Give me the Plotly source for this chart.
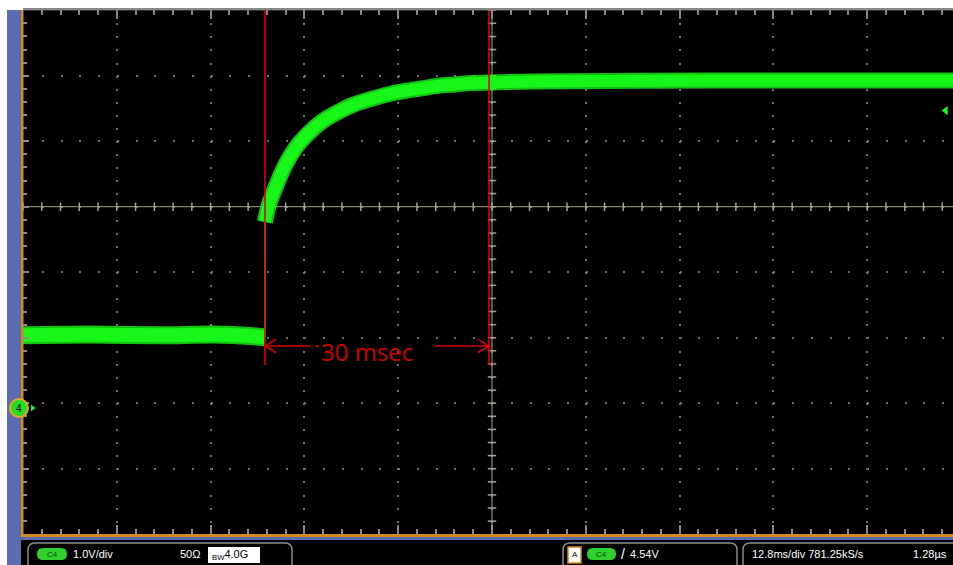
import plotly.graph_objects as go

# ---------------- data ----------------
time_per_div_ms = 12.8
volts_per_div = 1.0
x_range_ms = [-64.0, 62.91]
y_range_v = [-1.924, 6.073]
center_v = 3.073

pre_t = [-64.0, -55.0, -45.0, -38.0, -33.0, -31.0]
pre_v = [1.11, 1.12, 1.11, 1.12, 1.10, 1.08]

step_t = [-30.98, -30.98]
step_v = [1.08, 2.84]

rise_t = [-30.98, -30.53, -29.61, -28.25, -26.88, -25.52, -23.24, -20.97, -18.69,
          -16.42, -14.15, -11.87, -9.59, -7.33, -5.05, -2.77, -0.50, 10.0, 30.0, 62.91]
rise_v = [2.84, 3.07, 3.35, 3.70, 3.96, 4.14, 4.37, 4.52, 4.64,
          4.72, 4.79, 4.84, 4.88, 4.92, 4.94, 4.96, 4.97, 4.99, 5.00, 5.00]

cursor_t = [-30.98, -0.40]
cursor_bottom_v = 0.656
arrow_v = 0.947
delta_label = "30 msec"
ground_v = 0.0
trigger_level_v = 4.54

ch_label = "C4"
vdiv_label = "1.0V/div"
imp_label = "50Ω"
bw_label = "4.0G"
trig_label = "4.54V"
time_label = "12.8ms/div 781.25kS/s"
res_label = "1.28µs"

# ---------------- geometry helpers ----------------
W, H = 953, 565
def px(x):
    return x / W
def py(y):
    return 1 - y / H

GREEN = "#18f518"
RED = "#dd0000"
GRID = "#707070"
XH = "#a8a090"

fig = go.Figure()

# crosshair centre lines with minor ticks
n_minor_x = int(round((x_range_ms[1] - x_range_ms[0]) / (time_per_div_ms / 5))) + 2
tick_t = [x_range_ms[0] + i * time_per_div_ms / 5 for i in range(n_minor_x)]
tick_t = [t for t in tick_t if t <= x_range_ms[1]]
n_minor_y = int(round((y_range_v[1] - y_range_v[0]) / (volts_per_div / 5))) + 2
tick_v = [y_range_v[1] - i * volts_per_div / 5 for i in range(n_minor_y)]
tick_v = [v for v in tick_v if v >= y_range_v[0]]

fig.add_trace(go.Scatter(x=x_range_ms, y=[center_v, center_v], mode="lines",
                         line=dict(color=XH, width=1), hoverinfo="skip", showlegend=False))
fig.add_trace(go.Scatter(x=[0, 0], y=y_range_v, mode="lines",
                         line=dict(color=XH, width=1), hoverinfo="skip", showlegend=False))
fig.add_trace(go.Scatter(x=tick_t, y=[center_v] * len(tick_t), mode="markers",
                         marker=dict(symbol="line-ns", size=6, line=dict(color=XH, width=1.5)),
                         hoverinfo="skip", showlegend=False))
fig.add_trace(go.Scatter(x=[0] * len(tick_v), y=tick_v, mode="markers",
                         marker=dict(symbol="line-ew", size=6, line=dict(color=XH, width=1.5)),
                         hoverinfo="skip", showlegend=False))

# waveform
for w, c in [(18, "rgba(24,240,24,0.8)"), (14, GREEN)]:
    fig.add_trace(go.Scatter(x=pre_t, y=pre_v, mode="lines",
                             line=dict(color=c, width=w, shape="spline", smoothing=0.6),
                             hoverinfo="skip", showlegend=False))
    fig.add_trace(go.Scatter(x=rise_t, y=rise_v, mode="lines",
                             line=dict(color=c, width=w - 2, shape="spline", smoothing=0.8),
                             hoverinfo="skip", showlegend=False))
fig.add_trace(go.Scatter(x=step_t, y=step_v, mode="lines",
                         line=dict(color=GREEN, width=2), hoverinfo="skip", showlegend=False))

# cursors
for t in cursor_t:
    fig.add_trace(go.Scatter(x=[t, t], y=[y_range_v[1], cursor_bottom_v], mode="lines",
                             line=dict(color=RED, width=1.6), hoverinfo="skip", showlegend=False))

# delta arrows
wing_t, wing_v = 1.5, 0.1
left_tail = cursor_t[0] + 6.2
right_tail = cursor_t[1] - 7.4
fig.add_trace(go.Scatter(
    x=[left_tail, cursor_t[0], None, cursor_t[0] + wing_t, cursor_t[0], cursor_t[0] + wing_t,
       None, right_tail, cursor_t[1], None, cursor_t[1] - wing_t, cursor_t[1], cursor_t[1] - wing_t],
    y=[arrow_v, arrow_v, None, arrow_v + wing_v, arrow_v, arrow_v - wing_v,
       None, arrow_v, arrow_v, None, arrow_v + wing_v, arrow_v, arrow_v - wing_v],
    mode="lines", line=dict(color=RED, width=1.6), hoverinfo="skip", showlegend=False))
fig.add_trace(go.Scatter(x=[left_tail + 0.9, left_tail + 1.9], y=[arrow_v, arrow_v], mode="markers",
                         marker=dict(color=RED, size=2.5), hoverinfo="skip", showlegend=False))
fig.add_annotation(x=(cursor_t[0] + cursor_t[1]) / 2 - 1.4, y=arrow_v - 0.09, text=delta_label,
                   showarrow=False, font=dict(family="Open Sans", size=24, color="#cc0000"))

# trigger marker & ground arrow
fig.add_trace(go.Scatter(x=[x_range_ms[1] - 1.0], y=[trigger_level_v], mode="markers",
                         marker=dict(symbol="triangle-left", size=8, color=GREEN),
                         hoverinfo="skip", showlegend=False, cliponaxis=False))
fig.add_trace(go.Scatter(x=[x_range_ms[0] + 1.3], y=[ground_v], mode="markers",
                         marker=dict(symbol="triangle-right", size=6, color=GREEN),
                         hoverinfo="skip", showlegend=False, cliponaxis=False))

shapes = []
def rect(x0, y0, x1, y1, fill, line=None, lw=0):
    shapes.append(dict(type="rect", xref="paper", yref="paper", x0=px(x0), x1=px(x1),
                       y0=py(y1), y1=py(y0), fillcolor=fill,
                       line=dict(color=line or fill, width=lw), layer="above"))

def rbox(x0, y0, x1, y1, r, fill=None, line=None, lw=1.5):
    X0, X1 = px(x0), px(x1)
    Y0, Y1 = py(y0), py(y1)
    rx, ry = r / W, r / H
    p = (f"M{X0+rx},{Y0} L{X1-rx},{Y0} Q{X1},{Y0} {X1},{Y0-ry} L{X1},{Y1+ry} "
         f"Q{X1},{Y1} {X1-rx},{Y1} L{X0+rx},{Y1} Q{X0},{Y1} {X0},{Y1+ry} "
         f"L{X0},{Y0-ry} Q{X0},{Y0} {X0+rx},{Y0} Z")
    shapes.append(dict(type="path", xref="paper", yref="paper", path=p,
                       fillcolor=fill or "rgba(0,0,0,0)",
                       line=dict(color=line or "rgba(0,0,0,0)", width=lw if line else 0),
                       layer="above"))

# frame decorations
rect(21, 540, 953, 565, "#000000")
rect(7, 10, 21, 565, "#5b6db0")
rect(21, 537, 953, 540, "#5b6db0")
rect(21, 534, 953, 537, "#d4891c")
rect(21, 10, 23.5, 537, "#d4891c")

# ground marker
shapes.append(dict(type="circle", xref="paper", yref="paper", x0=px(10), x1=px(28),
                   y0=py(417), y1=py(399), fillcolor="#22dd22",
                   line=dict(color="#e8a424", width=2), layer="above"))

# status boxes
rbox(28, 543, 292, 580, 7, line="#8a8a8a")
rbox(563, 543, 737, 580, 7, line="#8a8a8a")
rbox(743, 543, 965, 580, 7, line="#8a8a8a")
rbox(37, 548, 67, 560, 6, fill="#2fd02f")
rbox(587, 548, 616, 560, 6, fill="#2fd02f")
rect(208, 547, 260, 563, "#ffffff")
rect(568, 547, 581, 563, "#ffffff", line="#d4891c", lw=1.5)

annots = [
    dict(x=px(19), y=py(408), text="4", font=dict(size=10, color="#000000"), xanchor="center"),
    dict(x=px(52), y=py(554), text=ch_label, font=dict(size=8, color="#0b4a0b"), xanchor="center"),
    dict(x=px(601.5), y=py(554), text=ch_label, font=dict(size=8, color="#0b4a0b"), xanchor="center"),
    dict(x=px(71), y=py(554), text=vdiv_label, font=dict(size=11, color="#ffffff"), xanchor="left"),
    dict(x=px(178), y=py(554), text=imp_label, font=dict(size=11, color="#ffffff"), xanchor="left"),
    dict(x=px(210), y=py(555), text="<sub>BW</sub>" + bw_label, font=dict(size=11, color="#000000"), xanchor="left"),
    dict(x=px(574.5), y=py(554), text="A", font=dict(size=8, color="#000000"), xanchor="center"),
    dict(x=px(619), y=py(554), text="/", font=dict(size=14, color="#ffffff"), xanchor="left"),
    dict(x=px(628), y=py(554), text=trig_label, font=dict(size=11, color="#ffffff"), xanchor="left"),
    dict(x=px(750), y=py(554), text=time_label, font=dict(size=11, color="#ffffff"), xanchor="left"),
    dict(x=px(949), y=py(554), text=res_label, font=dict(size=11, color="#ffffff"), xanchor="right"),
]
for a in annots:
    a.update(xref="paper", yref="paper", showarrow=False, yanchor="middle")
    a["font"]["family"] = "Liberation Sans"
    fig.add_annotation(**a)

fig.update_layout(
    width=W, height=H, margin=dict(l=0, r=0, t=0, b=0),
    paper_bgcolor="#ffffff", plot_bgcolor="#000000",
    shapes=shapes,
    xaxis=dict(domain=[px(23), 1], range=x_range_ms, tick0=0, dtick=time_per_div_ms,
               showgrid=True, gridcolor=GRID, gridwidth=1.5, griddash="2px,11.09px",
               zeroline=False, showticklabels=False, ticks="inside", ticklen=9,
               tickcolor="#8a8a8a", tickwidth=1.5,
               minor=dict(dtick=time_per_div_ms / 5, tick0=0, ticks="inside", ticklen=5,
                          tickcolor="#8a8a8a", showgrid=False),
               showline=True, linecolor="#8a8a8a", linewidth=1.5, mirror="ticks",
               fixedrange=True),
    yaxis=dict(domain=[py(534), py(10.2)], range=y_range_v, tick0=center_v, dtick=volts_per_div,
               showgrid=True, gridcolor=GRID, gridwidth=1.5, griddash="2px,16.76px",
               zeroline=False, showticklabels=False, ticks="inside", ticklen=6,
               tickcolor="#8a8a8a", tickwidth=1.5,
               minor=dict(dtick=volts_per_div / 5, tick0=center_v, ticks="inside", ticklen=4,
                          tickcolor="#8a8a8a", showgrid=False),
               showline=False, fixedrange=True),
)

fig.write_html("out.html", config={"displayModeBar": False},
               post_script="document.body.style.margin='0';document.body.style.overflow='hidden';")
